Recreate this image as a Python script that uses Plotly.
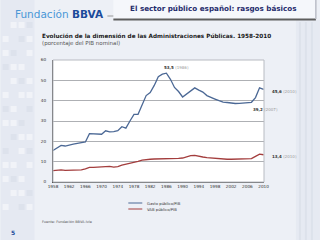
import plotly.graph_objects as go

years = list(range(1958, 2011))
gasto = [15.5, 16.8, 18.0, 17.7, 18.0, 18.6, 19.0, 19.5, 19.7, 23.8,
         23.7, 23.6, 23.5, 25.2, 24.7, 24.8, 25.2, 27.2, 26.5, 30.0,
         33.3, 33.3, 37.5, 42.5, 44.0, 47.5, 51.8, 53.0, 53.5, 50.5,
         46.5, 44.5, 41.8, 43.3, 44.5, 46.3, 45.2, 44.2, 42.5, 41.5,
         40.8, 40.0, 39.3, 39.1, 38.8, 38.6, 38.7, 38.9, 38.9, 39.2,
         41.5, 46.3, 45.6]
vab = [5.6, 5.9, 6.0, 5.7, 5.8, 5.9, 5.9, 6.0, 6.5, 7.2,
       7.2, 7.3, 7.4, 7.6, 7.7, 7.3, 7.6, 8.3, 8.7, 9.2,
       9.7, 10.2, 10.8, 11.1, 11.2, 11.3, 11.3, 11.3, 11.3, 11.3,
       11.4, 11.6, 11.8, 12.3, 13.0, 13.1, 12.6, 12.3, 12.0, 11.8,
       11.6, 11.4, 11.3, 11.2, 11.2, 11.3, 11.3, 11.3, 11.3, 11.5,
       12.6, 13.7, 13.4]
series_names = ["Gasto público/PIB", "VAB público/PIB"]
series_colors = ["#4b6895", "#a33d3d"]
xticks = list(range(1958, 2011, 4))
yticks = [0, 10, 20, 30, 40, 50, 60]
callouts = [  # (series index, year, text value)
    (0, 1986, "53,5", "(1986)"),
    (0, 2010, "45,6", "(2010)"),
    (0, 2007, "39,2", "(2007)"),
    (1, 2010, "13,4", "(2010)"),
]

W, H = 320, 240
L, R, T, B = 52.5, 56, 60, 58
PW, PH = W - L - R, H - T - B
FONT = "DejaVu Sans"


def px(x):
    return (x - L) / PW


def py(y):
    return 1 - (y - T) / PH


fig = go.Figure()
for name, vals, col in zip(series_names, [gasto, vab], series_colors):
    fig.add_trace(go.Scatter(x=years, y=vals, mode="lines", name=name,
                             line=dict(color=col, width=1.3), showlegend=False))

shapes = []
# background decor
shapes.append(dict(type="rect", xref="paper", yref="paper", x0=px(0), x1=px(34), y0=py(240), y1=py(0),
                   fillcolor="#e5e9f2", line=dict(width=0), layer="below"))
for i in range(4):
    for j in range(14):
        if (i * 3 + j * 5) % 4 == 0:
            continue
        x0 = 2 + i * 8
        y0 = 22 + j * 14
        shade = "#f1f3f8" if (i + j) % 3 else "#dde2ec"
        shapes.append(dict(type="rect", xref="paper", yref="paper", x0=px(x0), x1=px(x0 + 6),
                           y0=py(y0 + 6), y1=py(y0), fillcolor=shade, line=dict(width=0), layer="below"))
shapes.append(dict(type="rect", xref="paper", yref="paper", x0=px(296), x1=px(320), y0=py(240), y1=py(20),
                   fillcolor="#e6eaf2", line=dict(width=0), layer="below"))
for xs in [300, 306, 312]:
    shapes.append(dict(type="line", xref="paper", yref="paper", x0=px(xs), x1=px(xs), y0=py(240), y1=py(22),
                       line=dict(color="#dde2eb", width=2), layer="below"))
# title box
shapes.append(dict(type="rect", xref="paper", yref="paper", x0=px(113), x1=px(317), y0=py(19), y1=py(-1),
                   fillcolor="#f5f7fb", line=dict(width=0), layer="below"))
shapes.append(dict(type="rect", xref="paper", yref="paper", x0=px(113), x1=px(316), y0=py(20.5), y1=py(18.5),
                   fillcolor="#5e5e5e", line=dict(width=0), layer="below"))
shapes.append(dict(type="line", xref="paper", yref="paper", x0=px(316), x1=px(316), y0=py(19), y1=py(0),
                   line=dict(color="#b8bcc6", width=1.5), layer="below"))
shapes.append(dict(type="line", xref="paper", yref="paper", x0=px(107), x1=px(113), y0=py(16), y1=py(16),
                   line=dict(color="#9a9a9a", width=1), layer="below"))
# legend swatches
for k, col in enumerate(series_colors):
    yy = 203 + k * 6
    shapes.append(dict(type="line", xref="paper", yref="paper", x0=px(128), x1=px(142), y0=py(yy), y1=py(yy),
                       line=dict(color=col, width=1)))

annotations = []
annotations.append(dict(xref="paper", yref="paper", x=px(12), y=py(13.5), xanchor="left", yanchor="middle",
                        text="<span style='color:#4a97d6'>Fundación</span> <b style='color:#1b4b9b'>BBVA</b>",
                        showarrow=False, font=dict(family=FONT, size=10.5)))
annotations.append(dict(xref="paper", yref="paper", x=px(213), y=py(9), xanchor="center", yanchor="middle",
                        text="<b>El sector público español: rasgos básicos</b>",
                        showarrow=False, font=dict(family=FONT, size=7.2, color="#1f2b6b")))
annotations.append(dict(xref="paper", yref="paper", x=px(39), y=py(36), xanchor="left", yanchor="middle",
                        text="<b>Evolución de la dimensión de las Administraciones Públicas. 1958-2010</b>",
                        showarrow=False, font=dict(family=FONT, size=5.7, color="#1a1a1a")))
annotations.append(dict(xref="paper", yref="paper", x=px(39), y=py(43.5), xanchor="left", yanchor="middle",
                        text="(porcentaje del PIB nominal)",
                        showarrow=False, font=dict(family=FONT, size=5.5, color="#555555")))
for k, name in enumerate(series_names):
    annotations.append(dict(xref="paper", yref="paper", x=px(145), y=py(203 + k * 6), xanchor="left",
                            yanchor="middle", text=name, showarrow=False,
                            font=dict(family=FONT, size=3.8, color="#333333")))
annotations.append(dict(xref="paper", yref="paper", x=px(39), y=py(222), xanchor="left", yanchor="middle",
                        text="Fuente: Fundación BBVA-Ivie", showarrow=False,
                        font=dict(family=FONT, size=3.5, color="#555555")))
annotations.append(dict(xref="paper", yref="paper", x=px(12), y=py(232), xanchor="center", yanchor="middle",
                        text="<b>5</b>", showarrow=False, font=dict(family=FONT, size=6, color="#1b4b9b")))

offsets = {
    (0, 1986): (-4, 6),
    (0, 2010): (6, -2),
    (0, 2007): (0, -3),
    (1, 2010): (6, -2),
}
data = [gasto, vab]
for si, yr, val, yl in callouts:
    v = data[si][years.index(yr)]
    dx, dy = offsets[(si, yr)]
    annotations.append(dict(x=yr, y=v, xref="x", yref="y", xanchor="left",
                            yanchor="top" if (si, yr) == (0, 2007) else "middle",
                            xshift=dx, yshift=dy, showarrow=False,
                            text=f"<b>{val}</b> <span style='color:#9a9a9a'>{yl}</span>",
                            font=dict(family=FONT, size=4, color="#333333")))

fig.update_layout(
    width=W, height=H,
    margin=dict(l=L, r=R, t=T, b=B, pad=0),
    paper_bgcolor="#edf0f6", plot_bgcolor="#ffffff",
    shapes=shapes, annotations=annotations, showlegend=False,
    font=dict(family=FONT, size=4, color="#333333"),
)
fig.update_xaxes(range=[1958, 2010.1], tickvals=xticks, ticktext=[str(t) for t in xticks],
                 showgrid=False, showline=True, linecolor="#555555", linewidth=1, mirror=False,
                 ticks="", tickfont=dict(family=FONT, size=4.2, color="#333333"), zeroline=False)
fig.update_yaxes(range=[0, 60], tickvals=yticks, showgrid=True, gridcolor="#aeb0b4", gridwidth=0.8,
                 showline=True, linecolor="#555555", linewidth=1, ticks="", ticklabelstandoff=5,
                 tickfont=dict(family=FONT, size=4.2, color="#333333"), zeroline=False)
# plot frame (top/right)
fig.add_shape(type="rect", xref="paper", yref="paper", x0=0, x1=1, y0=0, y1=1,
              line=dict(color="#b8bbc2", width=1), fillcolor="rgba(0,0,0,0)", layer="above")

fig.write_html("out.html")
